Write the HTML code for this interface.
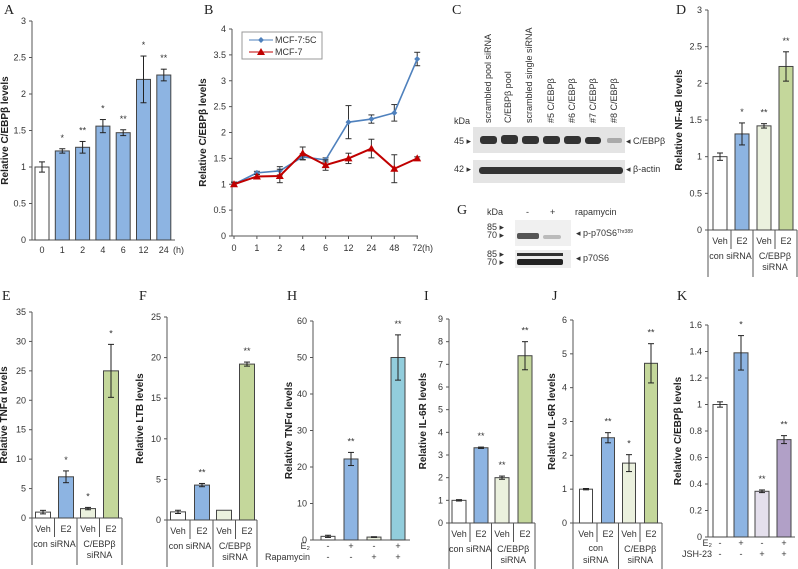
<!DOCTYPE html>
<html><head><meta charset="utf-8"><style>
body{margin:0;background:#fff}
svg{display:block;font-family:"Liberation Sans",Arial,sans-serif}
.t{font-size:9px;fill:#333}
.yl{font-size:10px;font-weight:bold;fill:#222}
.L{font-family:"Liberation Serif",serif;font-size:14px;fill:#222}
</style></head><body>
<svg id="fig" width="798" height="569" viewBox="0 0 798 569" xmlns="http://www.w3.org/2000/svg">
<!-- Panel C blots -->
<g>
<text class="L" x="452" y="14">C</text>
<g class="t" font-size="8.5">
<text transform="translate(491,123) rotate(-90)">scrambled pool siRNA</text>
<text transform="translate(511,123) rotate(-90)">C/EBPβ  pool</text>
<text transform="translate(532,123) rotate(-90)">scrambled single siRNA</text>
<text transform="translate(554,123) rotate(-90)">#5 C/EBPβ</text>
<text transform="translate(575,123) rotate(-90)">#6 C/EBPβ</text>
<text transform="translate(596,123) rotate(-90)">#7 C/EBPβ</text>
<text transform="translate(617,123) rotate(-90)">#8 C/EBPβ</text>
<text x="454" y="124">kDa</text>
<text x="454" y="144">45 ▸</text>
<text x="454" y="172">42 ▸</text>
<text x="626" y="144">◂ C/EBPβ</text>
<text x="626" y="172">◂ β-actin</text>
</g>
<rect x="473" y="127" width="152" height="26" fill="#e4e4e4"/>
<rect x="473" y="160" width="152" height="23" fill="#e4e4e4"/>
<g fill="#333">
<rect x="480" y="136" width="17" height="8" rx="3"/><rect x="501" y="135" width="17" height="9" rx="3"/><rect x="522" y="136" width="17" height="8" rx="3"/><rect x="543" y="136" width="17" height="8" rx="3"/><rect x="564" y="136" width="17" height="8" rx="3"/><rect x="585" y="137" width="16" height="7" rx="3"/><rect x="607" y="138" width="15" height="5" rx="2" fill="#aaa"/>
<rect x="479" y="167" width="144" height="7" rx="3"/>
</g>
<text class="L" x="457" y="214">G</text>
<g class="t" font-size="8.5">
<text x="487" y="215">kDa</text><text x="526" y="215">-</text><text x="550" y="215">+</text><text x="575" y="215">rapamycin</text>
<text x="487" y="230">85 ▸</text><text x="487" y="238">70 ▸</text>
<text x="576" y="236">◂ p-p70S6<tspan font-size="5" dy="-3">Thr389</tspan></text>
<text x="487" y="257">85 ▸</text><text x="487" y="265">70 ▸</text>
<text x="576" y="261">◂ p70S6</text>
</g>
<rect x="515" y="220" width="56" height="26" fill="#f0f0f0"/>
<rect x="517" y="233" width="22" height="6" rx="2" fill="#555"/><rect x="543" y="235" width="18" height="4" rx="2" fill="#bbb"/>
<rect x="515" y="250" width="56" height="18" fill="#eee"/>
<rect x="517" y="253" width="46" height="3" fill="#333"/><rect x="517" y="259" width="46" height="6" rx="2" fill="#222"/>
</g>
</svg>
<script>
// ---- data arrays ----
const aCats=['0','1','2','4','6','12','24'];
const aVals=[1,1.22,1.27,1.56,1.47,2.2,2.26];
const aErrs=[0.07,0.03,0.08,0.09,0.04,0.32,0.08];
const aStars=['','*','**','*','**','*','**'];
const aTicks=['0','0.5','1','1.5','2','2.5','3'];

const bCats=['0','1','2','4','6','12','24','48','72'];
const b5cVals=[1,1.22,1.26,1.53,1.47,2.2,2.26,2.38,3.42];
const b5cErrs=[0.04,0.03,0.08,0.06,0.04,0.32,0.08,0.16,0.13];
const b7Vals=[1,1.15,1.16,1.6,1.37,1.5,1.69,1.3,1.5];
const b7Errs=[0.04,0.04,0.13,0.12,0.1,0.1,0.18,0.27,0.03];
const bTicks=['0','0.5','1','1.5','2','2.5','3','3.5','4'];

const dVals=[1,1.31,1.42,2.23];
const dErrs=[0.05,0.15,0.03,0.2];
const dStars=['','*','**','**'];
const dTicks=['0','0.5','1','1.5','2','2.5','3'];

const eVals=[1,7,1.6,25];
const eErrs=[0.3,1,0.2,4.5];
const eStars=['','*','*','*'];
const eTicks=['0','5','10','15','20','25','30','35'];

const fVals=[1,4.3,1.2,19.2];
const fErrs=[0.2,0.2,0,0.25];
const fStars=['','**','','**'];
const fTicks=['0','5','10','15','20','25'];

const hVals=[1,22.2,0.8,50];
const hErrs=[0.3,1.8,0.1,6.2];
const hStars=['','**','','**'];
const hTicks=['0','10','20','30','40','50','60'];

const iVals=[1,3.32,2,7.38];
const iErrs=[0.03,0.03,0.07,0.62];
const iStars=['','**','**','**'];
const iTicks=['0','1','2','3','4','5','6','7','8','9'];

const jVals=[1,2.52,1.77,4.72];
const jErrs=[0.02,0.15,0.25,0.58];
const jStars=['','**','*','**'];
const jTicks=['0','1','2','3','4','5','6'];

const kVals=[1,1.39,0.345,0.735];
const kErrs=[0.02,0.13,0.01,0.03];
const kStars=['','*','**','**'];
const kTicks=['0','0.2','0.4','0.6','0.8','1','1.2','1.4','1.6'];

// ---- drawing ----
const NS='http://www.w3.org/2000/svg';
const svg=document.getElementById('fig');
function mk(tag,attrs,parent,txt){const e=document.createElementNS(NS,tag);for(const k in attrs)e.setAttribute(k,attrs[k]);if(txt!==undefined)e.textContent=txt;(parent||svg).appendChild(e);return e;}
function line(g,x1,y1,x2,y2,c){return mk('line',{x1,y1,x2,y2,stroke:c||'#555','stroke-width':1},g);}

function axes(g,ax,y0,y1,ticks,xEnd,ylabel,ylx){
  const tmax=parseFloat(ticks[ticks.length-1]);
  const sy=v=>y0-(v/tmax)*(y0-y1);
  line(g,ax,y0,ax,y1);
  line(g,ax,y0,xEnd,y0);
  ticks.forEach(t=>{const y=sy(parseFloat(t));line(g,ax-3,y,ax,y);
    const tx=mk('text',{x:ax-6,y:y+3,'text-anchor':'end',class:'t'},g,t);
    
    });
  const yl=mk('text',{class:'yl','text-anchor':'middle',transform:`translate(${ylx},${(y0+y1)/2}) rotate(-90)`},g,ylabel);
  
  
  return sy;
}

function bars(g,sy,centers,vals,errs,stars,colors,w){
  vals.forEach((v,i)=>{
    const x=centers[i],y=sy(v),y0=sy(0);
    const r=mk('rect',{x:x-w/2,y:y,width:w,height:y0-y,fill:colors[i],stroke:'#444','stroke-width':1},g);
    
    
    const e=errs[i];
    if(e>0){const yt=sy(v+e),yb=sy(v-e);
      line(g,x,yt,x,yb,'#222');line(g,x-3,yt,x+3,yt,'#222');line(g,x-3,yb,x+3,yb,'#222');}
    if(stars[i]){const s=mk('text',{x:x,y:sy(v+e)-8,'text-anchor':'middle',class:'t','font-size':'11'},g,stars[i]);
      
      }
  });
}

function siRNALabels(g,ax,y0,c,xEnd,twoLineCon){
  const mid=(c[1]+c[2])/2;
  line(g,ax,y0,ax,y0+47);line(g,mid,y0,mid,y0+47);line(g,xEnd,y0,xEnd,y0+47);
  line(g,(c[0]+c[1])/2,y0,(c[0]+c[1])/2,y0+19);line(g,(c[2]+c[3])/2,y0,(c[2]+c[3])/2,y0+19);
  ['Veh','E2','Veh','E2'].forEach((t,i)=>mk('text',{x:c[i],y:y0+14,'text-anchor':'middle',class:'t'},g,t));
  if(twoLineCon){mk('text',{x:(ax+mid)/2,y:y0+28,'text-anchor':'middle',class:'t'},g,'con');mk('text',{x:(ax+mid)/2,y:y0+40,'text-anchor':'middle',class:'t'},g,'siRNA');}
  else mk('text',{x:(ax+mid)/2,y:y0+29,'text-anchor':'middle',class:'t'},g,'con siRNA');
  mk('text',{x:(mid+xEnd)/2,y:y0+29,'text-anchor':'middle',class:'t'},g,'C/EBPβ');
  mk('text',{x:(mid+xEnd)/2,y:y0+40,'text-anchor':'middle',class:'t'},g,'siRNA');
}
function pmRows(g,c,y0,r1,r2,labels,lx){
  mk('text',{x:lx,y:y0+10,'text-anchor':'end',class:'t'},g,labels[0]);
  mk('text',{x:lx,y:y0+21,'text-anchor':'end',class:'t'},g,labels[1]);
  c.forEach((x,i)=>{mk('text',{x:x,y:y0+10,'text-anchor':'middle',class:'t'},g,r1[i]);mk('text',{x:x,y:y0+21,'text-anchor':'middle',class:'t'},g,r2[i]);});
}
function panel(name,letter,lx,ly){const g=mk('g',{});
  
  
  mk('text',{x:lx,y:ly,class:'L'},g,letter);return g;}

const W='#ffffff',BL='#8db4e2',PG='#ebf1de',GR='#c4d79b';

// A
let g=panel('panel-a-chart','A',4,14);
let sy=axes(g,32,240,21,aTicks,175,'Relative C/EBPβ levels',8);
const aC=aCats.map((_,i)=>42+i*20.3);
bars(g,sy,aC,aVals,aErrs,aStars,[W,BL,BL,BL,BL,BL,BL],14);
aCats.forEach((c,i)=>mk('text',{x:aC[i],y:253,'text-anchor':'middle',class:'t'},g,c));
mk('text',{x:173,y:253,class:'t'},g,'(h)');

// B
g=panel('panel-b-chart','B',204,14);
sy=axes(g,232,236,29,bTicks,418,'Relative C/EBPβ levels',206);
const bx=i=>234+i*22.9;
bCats.forEach((c,i)=>{line(g,bx(i),236,bx(i),239);mk('text',{x:bx(i),y:251,'text-anchor':'middle',class:'t'},g,c);});
mk('text',{x:422,y:251,class:'t'},g,'(h)');
function series(vals,errs,col,name,tri){
  const sg=mk('g',{},g);
  
  
  vals.forEach((v,i)=>{const yt=sy(v+errs[i]),yb=sy(v-errs[i]),x=bx(i);line(sg,x,yt,x,yb,'#333');line(sg,x-3,yt,x+3,yt,'#333');line(sg,x-3,yb,x+3,yb,'#333');});
  mk('polyline',{points:vals.map((v,i)=>bx(i)+','+sy(v)).join(' '),fill:'none',stroke:col,'stroke-width':tri?2:1.6},sg);
  vals.forEach((v,i)=>{const x=bx(i),y=sy(v);
    if(tri)mk('polygon',{points:`${x-4},${y+3} ${x+4},${y+3} ${x},${y-4}`,fill:col},sg);
    else mk('polygon',{points:`${x-3},${y} ${x},${y-3} ${x+3},${y} ${x},${y+3}`,fill:col},sg);});
}
series(b5cVals,b5cErrs,'#4f81bd','series-mcf7-5c',false);
series(b7Vals,b7Errs,'#c00000','series-mcf7',true);
const lg=mk('g',{},g);


mk('rect',{x:242,y:32,width:80,height:27,fill:'#fff',stroke:'#999'},lg);
line(lg,249,40,273,40,'#4f81bd');mk('polygon',{points:'258,40 261,37 264,40 261,43',fill:'#4f81bd'},lg);
line(lg,249,52,273,52,'#c00000');mk('polygon',{points:'257,55 265,55 261,48',fill:'#c00000'},lg);
mk('text',{x:275,y:43,class:'t'},lg,'MCF-7:5C');
mk('text',{x:275,y:55,class:'t'},lg,'MCF-7');

// D
g=panel('panel-d-chart','D',676,14);
sy=axes(g,708,230,10,dTicks,797,'Relative NF-κB levels',682);
const dC=[720,742,764,786];
bars(g,sy,dC,dVals,dErrs,dStars,[W,BL,PG,GR],14);
siRNALabels(g,708,230,dC,797,false);

// E
g=panel('panel-e-chart','E',2,300);
sy=axes(g,32,518,312,eTicks,122,'Relative TNFα levels',7);
const eC=[43,66,88,111];
bars(g,sy,eC,eVals,eErrs,eStars,[W,BL,PG,GR],15);
siRNALabels(g,32,518,eC,122,false);

// F
g=panel('panel-f-chart','F',139,300);
sy=axes(g,167,520,317,fTicks,257,'Relative LTB levels',143);
const fC=[178,202,224,247];
bars(g,sy,fC,fVals,fErrs,fStars,[W,BL,PG,GR],15);
siRNALabels(g,167,520,fC,257,false);

// H
g=panel('panel-h-chart','H',287,300);
sy=axes(g,313,540,321,hTicks,410,'Relative TNFα levels',292);
const hC=[328,351,374,398];
bars(g,sy,hC,hVals,hErrs,hStars,[W,BL,PG,'#92cddc'],14);
pmRows(g,hC,539,['-','+','-','+'],['-','-','+','+'],['E₂','Rapamycin'],310);

// I
g=panel('panel-i-chart','I',424,300);
sy=axes(g,449,523,319,iTicks,535,'Relative IL-6R levels',426);
const iC=[459,481,502,525];
bars(g,sy,iC,iVals,iErrs,iStars,[W,BL,PG,GR],14);
siRNALabels(g,449,523,iC,535,false);

// J
g=panel('panel-j-chart','J',552,300);
sy=axes(g,573,523,320,jTicks,662,'Relative IL-6R levels',555);
const jC=[586,608,629,651];
bars(g,sy,jC,jVals,jErrs,jStars,[W,BL,PG,GR],13);
siRNALabels(g,573,523,jC,662,true);

// K
g=panel('panel-k-chart','K',677,300);
sy=axes(g,708,537,325,kTicks,795,'Relative C/EBPβ levels',681);
const kC=[720,741,762,784];
bars(g,sy,kC,kVals,kErrs,kStars,[W,BL,'#e4dfec','#b1a0c7'],14);
pmRows(g,kC,536,['-','+','-','+'],['-','-','+','+'],['E₂','JSH-23'],712);
</script>
</body></html>
